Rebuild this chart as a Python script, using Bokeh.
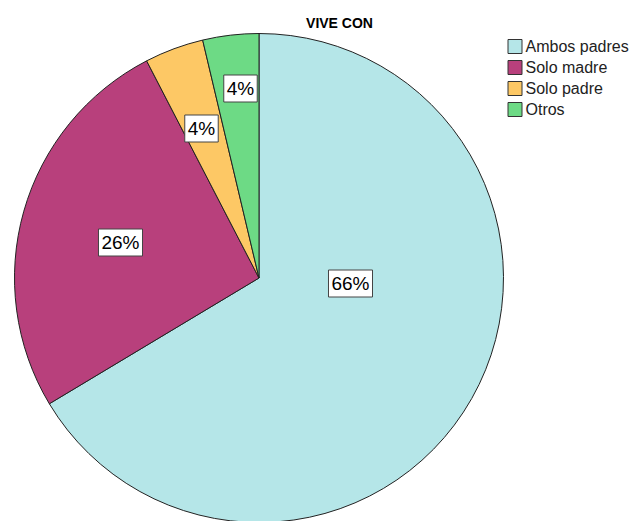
import math
from bokeh.plotting import figure
from bokeh.models import Range1d, Label
from bokeh.core.properties import value
from bokeh.embed import file_html
from bokeh.resources import INLINE

# ---- data ----
categories = ["Ambos padres", "Solo madre", "Solo padre", "Otros"]
percents = [66.4, 26.0, 3.9, 3.7]
label_texts = ["66%", "26%", "4%", "4%"]
colors = ["#B5E6E8", "#B8407C", "#FDC865", "#6DDA85"]

# ---- layout (pixel coordinates of reference image) ----
W, H = 636, 521
def px(x): return x
def py(y): return H - y

cx, cy, R = px(258.5), py(277.5), 244.5
label_pos = [(350, 283), (120, 242), (201, 128), (240, 88)]

p = figure(width=W, height=H, output_backend="svg", toolbar_location=None,
           x_range=Range1d(0, W), y_range=Range1d(0, H), min_border=0)
p.axis.visible = False
p.grid.visible = False
p.outline_line_color = None
p.background_fill_color = "white"

total = sum(percents)
cum = 0.0
starts, ends = [], []
for v in percents:
    starts.append(math.pi / 2 - 2 * math.pi * cum / total)
    cum += v
    ends.append(math.pi / 2 - 2 * math.pi * cum / total)

p.wedge(x=cx, y=cy, radius=R, start_angle=starts, end_angle=ends,
        direction="clock", fill_color=colors, line_color="#222222", line_width=1)

for t, (lx, ly) in zip(label_texts, label_pos):
    p.add_layout(Label(x=px(lx), y=py(ly), text=t, text_align="center",
                       text_baseline="middle", text_font="Liberation Sans",
                       text_font_size="19px", text_color="black",
                       background_fill_color="white", border_line_color="#444444",
                       border_line_width=1, padding=3))

# title
p.text(x=[px(339)], y=[py(22)], text=["VIVE CON"], text_align="center",
       text_baseline="middle", text_font=value("Liberation Sans"),
       text_font_style="bold", text_font_size="14px", text_color="black")

# legend
ly0 = [46, 67, 88, 109]
p.rect(x=[px(514.5)] * 4, y=[py(v) for v in ly0], width=14, height=14,
       fill_color=colors, line_color="#333333", line_width=1)
p.text(x=[px(525)] * 4, y=[py(v) for v in ly0], text=categories,
       text_align="left", text_baseline="middle",
       text_font=value("Liberation Sans"), text_font_size="16px",
       text_color="#222222")

open("out.html", "w").write(file_html(p, INLINE))
